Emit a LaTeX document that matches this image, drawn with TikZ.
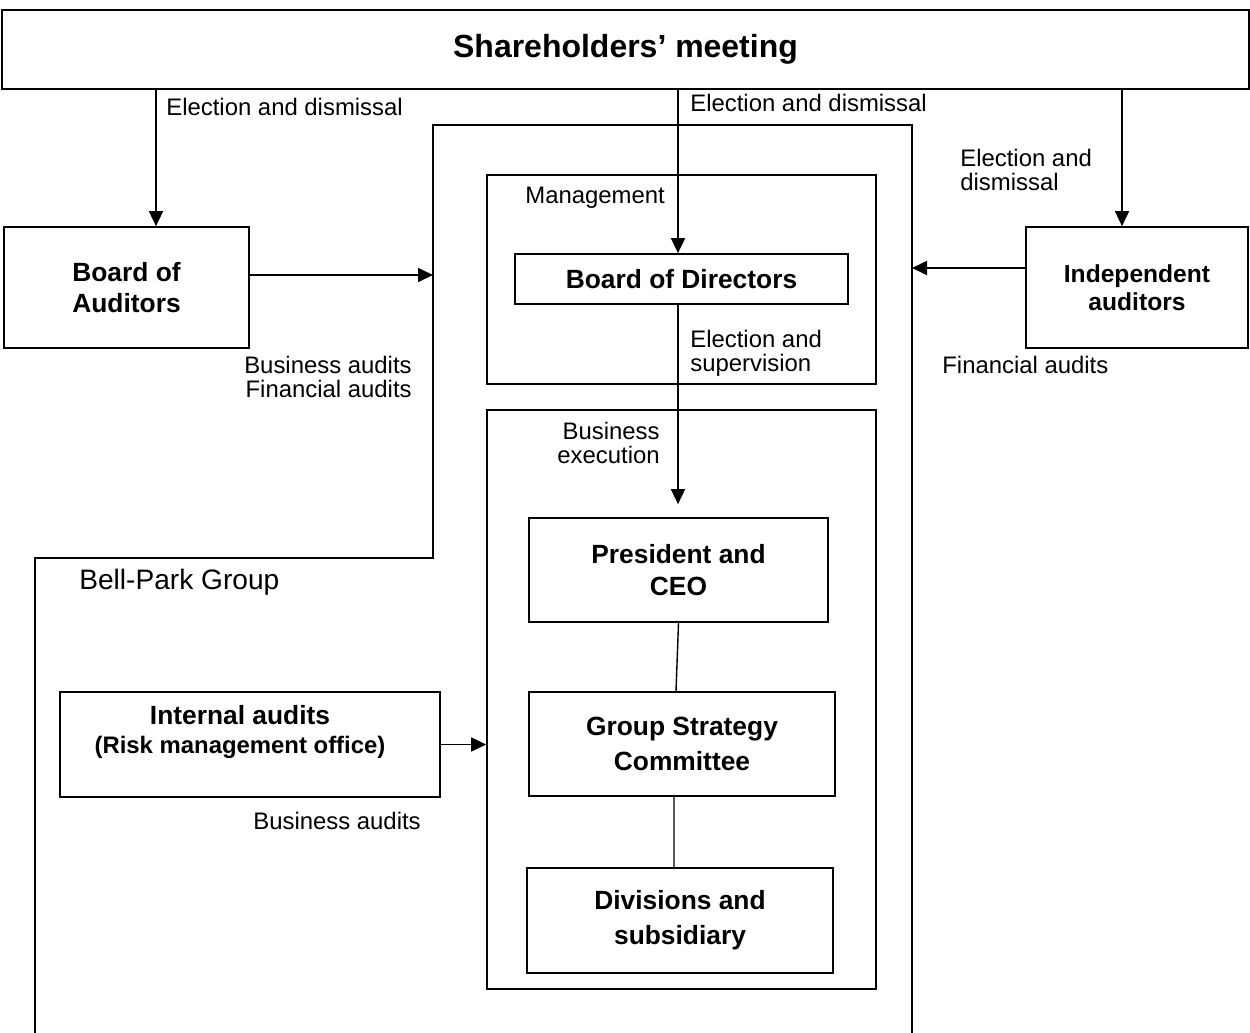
\documentclass[tikz,border=0pt]{standalone}
\usepackage{fontspec}
\setmainfont{Liberation Sans}
\usetikzlibrary{arrows.meta, positioning, calc}

\begin{document}
\begin{tikzpicture}[x=0.02cm, y=-0.02cm,
    block/.style={rectangle, draw, line width=1pt, align=center, font=\fontsize{15}{18}\selectfont\bfseries, inner sep=0pt},
    frame/.style={rectangle, draw, line width=1pt, inner sep=0pt},
    lbl/.style={font=\fontsize{13.6}{13.8}\selectfont, inner sep=0pt},
    arrow/.style={line width=1pt, -{Triangle[length=0.3cm, width=0.28cm]}},
    link/.style={line width=0.8pt}]
    \useasboundingbox (0,0) rectangle (1250,1032);

    % top
    \node[frame, minimum width=24.94cm, minimum height=1.58cm, font=\fontsize{18.2}{20}\selectfont\bfseries] (share) at (625.5,49.5) {Shareholders’ meeting};

    % Bell-Park Group outline
    \coordinate (grpL) at (433,125);
    \coordinate (grpR) at (912,125);
    \draw[line width=1pt] (35,1040) -- (35,558) -- (433,558) -- (grpL) -- (grpR) -- (912,1040);
    \node[lbl, font=\fontsize{16}{18}\selectfont, anchor=west] (grpname) at (79,582) {Bell-Park Group};

    % outside boxes
    \node[block, minimum width=4.9cm, minimum height=2.42cm] (boa) at (126.5,287.5) {Board of\\Auditors};
    \node[block, minimum width=4.44cm, minimum height=2.42cm, font=\fontsize{14}{16}\selectfont\bfseries] (ind) at (1137,287.5) {Independent\\auditors};

    % management and execution frames
    \node[frame, minimum width=7.78cm, minimum height=4.18cm] (mgmt) at (681.5,279.5) {};
    \node[lbl, anchor=west] (mgmtname) at (525,198) {Management};
    \node[block, minimum width=6.66cm, minimum height=1.0cm] (bod) at (681.5,279) {Board of Directors};
    \node[frame, minimum width=7.78cm, minimum height=11.58cm] (exec) at (681.5,699.5) {};

    \node[block, minimum width=5.98cm, minimum height=2.08cm] (ceo) at (678.5,570) {President and\\CEO};
    \node[block, minimum width=6.12cm, minimum height=2.08cm, font=\fontsize{15}{20}\selectfont\bfseries] (gsc) at (682,744) {Group Strategy\\Committee};
    \node[block, minimum width=6.12cm, minimum height=2.1cm, font=\fontsize{15}{20}\selectfont\bfseries] (div) at (680,920.5) {Divisions and\\subsidiary};

    \node[frame, minimum width=7.6cm, minimum height=2.1cm] (ia) at (250,744.5) {};
    \node[align=center, inner sep=0pt, font=\fontsize{15}{16}\selectfont\bfseries] (iatext) at (240,732) {Internal audits\\{\fontsize{13.6}{16}\selectfont (Risk management office)}};

    % connectors
    \draw[arrow] ([xshift=0.59cm]boa.north |- share.south) -- ([xshift=0.59cm]boa.north);
    \draw[arrow] ([xshift=-0.07cm]bod.north |- share.south) -- ([xshift=-0.07cm]bod.north);
    \draw[arrow] ([xshift=-0.3cm]ind.north |- share.south) -- ([xshift=-0.3cm]ind.north);
    \draw[arrow] ([yshift=0.25cm]boa.east) -- ([yshift=0.25cm]boa.east -| grpL);
    \draw[arrow] ([yshift=0.39cm]ind.west) -- ([yshift=0.39cm]ind.west -| grpR);
    \draw[arrow] ([xshift=-0.07cm]bod.south) -- ($(bod.south |- ceo.north)+(-0.07cm,0.26cm)$);
    \draw[arrow] (ia.east) -- (ia.east -| exec.west);
    \draw[link] (ceo.south) -- ([xshift=-0.12cm]gsc.north);
    \draw[link] ([xshift=-0.16cm]gsc.south) -- ([xshift=-0.12cm]div.north);

    % labels
    \node[lbl, anchor=west] (ed1) at (166,107) {Election and dismissal};
    \node[lbl, anchor=west] (ed2) at (690,103) {Election and dismissal};
    \node[lbl, anchor=west, align=left] (ed3) at (960,170) {Election and\\dismissal};
    \node[lbl, anchor=east, align=right] (bfa) at (412,377) {Business audits\\Financial audits};
    \node[lbl, anchor=west] (fa) at (942,365) {Financial audits};
    \node[lbl, anchor=west, align=left] (es) at (690,353.5) {Election and\\supervision};
    \node[lbl, anchor=east, align=right] (be) at (660,443) {Business\\execution};
    \node[lbl, anchor=west] (ba) at (253,821) {Business audits};
\end{tikzpicture}
\end{document}
